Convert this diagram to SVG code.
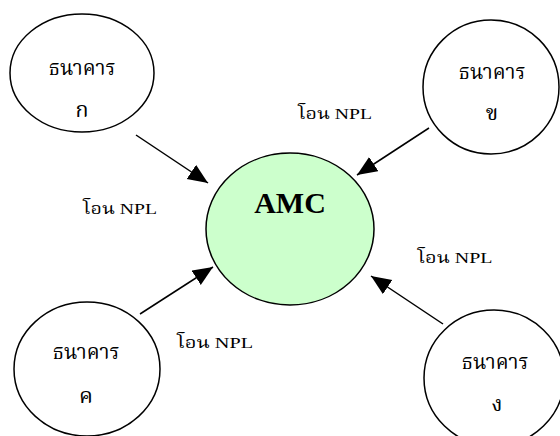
<svg xmlns="http://www.w3.org/2000/svg" width="560" height="436" viewBox="0 0 560 436">
<style>
.node{fill:#ffffff;stroke:#000000;stroke-width:1.5}
.amc{fill:#ccffcc;stroke:#000000;stroke-width:1.5}
.t{font-family:"Liberation Serif","Noto Serif Thai",serif;font-size:22px;fill:#000;text-anchor:middle}
.lbl{font-family:"Liberation Serif","Noto Serif Thai",serif;font-size:15px;fill:#000;text-anchor:middle}
.big{font-family:"Liberation Serif",serif;font-size:30px;font-weight:bold;fill:#000;text-anchor:middle}
.edge{stroke:#000;stroke-width:1.5;fill:none;marker-end:url(#ah)}
</style>
<defs>
<marker id="ah" markerUnits="userSpaceOnUse" markerWidth="22" markerHeight="18" refX="20" refY="8.5" orient="auto">
<path d="M0,0 L20,8.5 L0,17 z" fill="#000"/>
</marker>
</defs>
<rect width="560" height="436" fill="#ffffff"/>
<g id="connectors">
<line class="edge" x1="136" y1="135" x2="208" y2="183"/>
<line class="edge" x1="429" y1="128" x2="357" y2="175"/>
<line class="edge" x1="140" y1="314" x2="213" y2="267"/>
<line class="edge" x1="443" y1="324" x2="371" y2="276"/>
</g>
<g id="amc">
<ellipse class="amc" cx="290" cy="229" rx="84" ry="76"/>
<text class="big" x="290" y="213">AMC</text>
</g>
<g id="bank-a">
<ellipse class="node" cx="82" cy="73" rx="72" ry="59"/>
<text class="t" x="82" y="75" textLength="67" lengthAdjust="spacingAndGlyphs">ธนาคาร</text>
<text class="t" x="82" y="117">ก</text>
</g>
<g id="bank-b">
<ellipse class="node" cx="491" cy="87" rx="68" ry="67"/>
<text class="t" x="492" y="79" textLength="67" lengthAdjust="spacingAndGlyphs">ธนาคาร</text>
<text class="t" x="492" y="120">ข</text>
</g>
<g id="bank-c">
<ellipse class="node" cx="87" cy="369" rx="73" ry="67"/>
<text class="t" x="86" y="359" textLength="67" lengthAdjust="spacingAndGlyphs">ธนาคาร</text>
<text class="t" x="86" y="403">ค</text>
</g>
<g id="bank-d">
<ellipse class="node" cx="494" cy="378" rx="70" ry="68"/>
<text class="t" x="495" y="369" textLength="67" lengthAdjust="spacingAndGlyphs">ธนาคาร</text>
<text class="t" x="497" y="411">ง</text>
</g>
<g id="labels">
<text class="lbl" x="120" y="214" textLength="74" lengthAdjust="spacingAndGlyphs">โอน NPL</text>
<text class="lbl" x="335" y="119" textLength="74" lengthAdjust="spacingAndGlyphs">โอน NPL</text>
<text class="lbl" x="215" y="348" textLength="76" lengthAdjust="spacingAndGlyphs">โอน NPL</text>
<text class="lbl" x="455" y="263" textLength="75" lengthAdjust="spacingAndGlyphs">โอน NPL</text>
</g>
</svg>
